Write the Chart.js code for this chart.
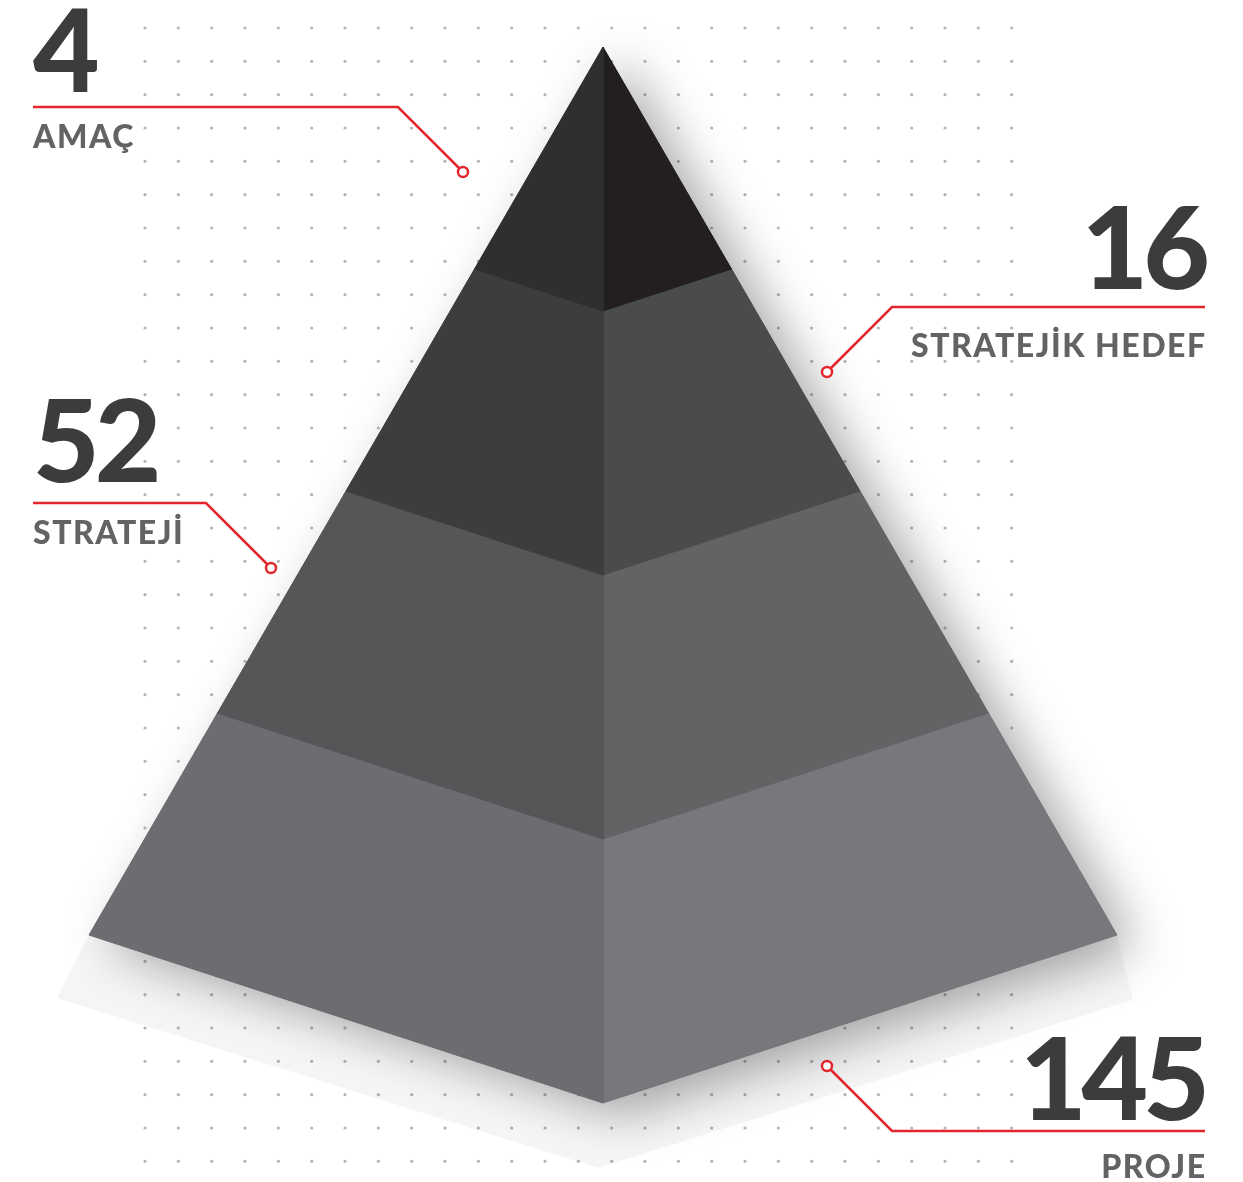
<!DOCTYPE html>
<html>
<head>
<meta charset="utf-8">
<script src="https://cdn.jsdelivr.net/npm/chart.js@4.4.1/dist/chart.umd.min.js"></script>
<style>
  html, body { margin: 0; padding: 0; background: #fff; }
  #wrap { width: 1243px; height: 1182px; }
</style>
</head>
<body>
<div id="wrap"><canvas id="pyramid"></canvas></div>
<script>
const levels = ['AMAÇ', 'STRATEJİK HEDEF', 'STRATEJİ', 'PROJE'];
const counts = [4, 16, 52, 145];

// layout, in the px frame of the picture
const apex = {x: 603, y: 47};
const halfBase = 514, edgeDrop = 888, ridgeDrop = 1056;
const leftFace = ['#2f2e30', '#3d3d3e', '#555658', '#6c6d71'];
const rightFace = ['#231f20', '#4a4b4d', '#636365', '#77787c'];
const red = '#e3262b';
const textLeft = 33, textRight = 1205;
const callouts = [
    {side: 'left',  lineY: 107,  elbowX: 398, dot: {x: 463, y: 172},  numY: 92,   labelY: 148},
    {side: 'right', lineY: 307,  elbowX: 892, dot: {x: 827, y: 372},  numY: 289,  labelY: 357},
    {side: 'left',  lineY: 503,  elbowX: 206, dot: {x: 271, y: 568},  numY: 482,  labelY: 544},
    {side: 'right', lineY: 1131, elbowX: 892, dot: {x: 827, y: 1066}, numY: 1120, labelY: 1178}
];

const n = levels.length;
const edge = (t, side) => ({x: apex.x + side * halfBase * t / n, y: apex.y + edgeDrop * t / n});
const ridge = t => ({x: apex.x, y: apex.y + ridgeDrop * t / n});

const faceSets = [];
levels.forEach((name, i) => {
    [[-1, leftFace[i]], [1, rightFace[i]]].forEach(([side, color]) => {
        const pts = [edge(i, side), ridge(i), ridge(i + 1), edge(i + 1, side)];
        pts.push(pts[0]);
        faceSets.push({
            label: name, data: pts, fill: 'shape',
            borderColor: color, backgroundColor: color, borderWidth: 1,
            pointRadius: 0, tension: 0
        });
    });
});

const calloutSets = callouts.map((c, i) => ({
    label: levels[i] + ' ' + counts[i],
    data: [{x: c.side === 'left' ? textLeft : textRight, y: c.lineY}, {x: c.elbowX, y: c.lineY}, c.dot],
    fill: false, borderColor: red, borderWidth: 2.5, tension: 0,
    pointRadius: [0, 0, 5], pointBackgroundColor: '#fff',
    pointBorderColor: red, pointBorderWidth: 2.5
}));

const px = (chart, p) => ({x: chart.scales.x.getPixelForValue(p.x), y: chart.scales.y.getPixelForValue(p.y)});

function polygon(ctx, chart, pts) {
    ctx.beginPath();
    pts.forEach((p, k) => {
        const q = px(chart, p);
        k ? ctx.lineTo(q.x, q.y) : ctx.moveTo(q.x, q.y);
    });
    ctx.closePath();
}

const backdrop = {
    id: 'backdrop',
    beforeDraw(chart) {
        const ctx = chart.ctx;
        ctx.save();
        ctx.fillStyle = '#b5b5b7';
        for (let x = 145; x < 1015; x += 100 / 3) {
            for (let y = 28; y < 1165; y += 100 / 3) {
                const q = px(chart, {x, y});
                ctx.beginPath();
                ctx.arc(q.x, q.y, 1.6, 0, Math.PI * 2);
                ctx.fill();
            }
        }
        ctx.restore();
    },
    beforeDatasetsDraw(chart) {
        const ctx = chart.ctx;
        const bl = edge(n, -1), br = edge(n, 1), bc = ridge(n);
        ctx.save();
        ctx.fillStyle = 'rgba(0,0,0,0.04)';
        polygon(ctx, chart, [
            {x: bl.x - 32, y: bl.y + 63}, {x: bc.x - 5, y: bc.y + 65}, {x: br.x + 16, y: br.y + 65},
            br, bc, bl
        ]);
        ctx.fill();
        ctx.shadowColor = 'rgba(0,0,0,0.34)';
        ctx.shadowBlur = 50;
        ctx.shadowOffsetX = 20;
        ctx.shadowOffsetY = 12;
        ctx.fillStyle = '#666';
        polygon(ctx, chart, [apex, br, bc, bl]);
        ctx.fill();
        ctx.restore();
    },
    afterDraw(chart) {
        const ctx = chart.ctx;
        ctx.save();
        ctx.textBaseline = 'alphabetic';
        callouts.forEach((c, i) => {
            const x = c.side === 'left' ? textLeft : textRight;
            ctx.textAlign = c.side;
            ctx.fillStyle = '#3c3c3d';
            ctx.font = '900 115px Lato';
            ctx.letterSpacing = '-5px';
            let q = px(chart, {x, y: c.numY});
            ctx.fillText(String(counts[i]), q.x, q.y);
            ctx.fillStyle = '#636365';
            ctx.font = '900 32px Lato';
            ctx.letterSpacing = '1.5px';
            q = px(chart, {x: c.side === 'left' ? x : x + 1.5, y: c.labelY});
            ctx.fillText(levels[i], q.x, q.y);
        });
        ctx.restore();
    }
};

new Chart(document.getElementById('pyramid'), {
    type: 'line',
    data: {datasets: [...calloutSets, ...faceSets]},
    options: {
        responsive: true,
        maintainAspectRatio: false,
        animation: false,
        events: [],
        layout: {padding: 0, autoPadding: false},
        plugins: {legend: {display: false}, tooltip: {enabled: false}},
        scales: {
            x: {type: 'linear', min: 0, max: 1243, display: false},
            y: {type: 'linear', min: 0, max: 1182, reverse: true, display: false}
        }
    },
    plugins: [backdrop]
});
</script>
</body>
</html>
